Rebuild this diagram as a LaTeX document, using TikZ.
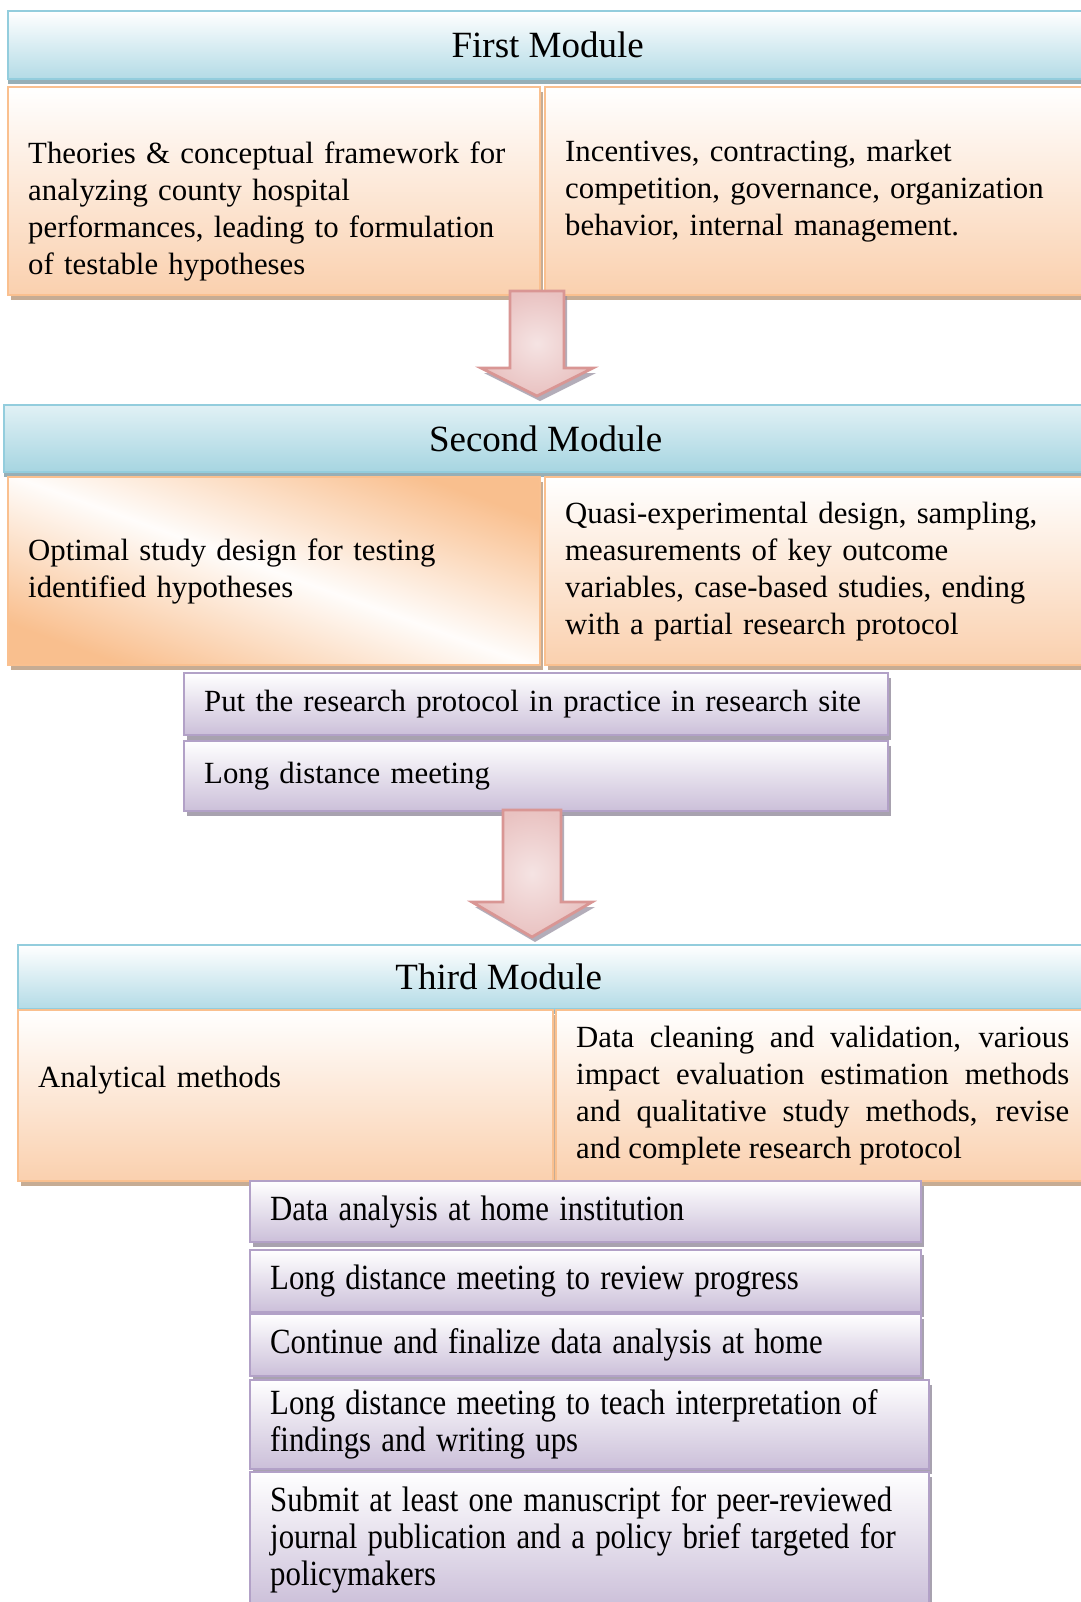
\documentclass[tikz,border=0pt]{standalone}
\usepackage{fontspec}
\setmainfont{Liberation Serif}
\usepackage{graphicx}
\usepackage{tikz}
\usetikzlibrary{shadows}

\definecolor{hdrline}{HTML}{93CDDD}
\definecolor{hdrfill}{HTML}{B3DBE6}
\definecolor{hdrfilltwo}{HTML}{A6D5E1}
\definecolor{hdrshade}{HTML}{7E9CA4}
\definecolor{orline}{HTML}{FAC08F}
\definecolor{orfill}{HTML}{FAD0AE}
\definecolor{ordeep}{HTML}{F9BF8E}
\definecolor{orshade}{HTML}{B8987A}
\definecolor{prline}{HTML}{B2A1C7}
\definecolor{prfill}{HTML}{CBBFD9}
\definecolor{prshade}{HTML}{938B9C}
\definecolor{arline}{HTML}{D99694}
\definecolor{arfill}{HTML}{E9C2C1}

\hyphenpenalty=10000
\exhyphenpenalty=10000

% taller glyphs in the lower stack
\newcommand\tallrow[1]{\scalebox{1}[1.15]{#1}}

\tikzset{
  boxbase/.style={anchor=north west, inner xsep=10pt, inner ysep=0pt, line width=1.2pt,
    font=\fontsize{15.4pt}{18.5pt}\selectfont},
  hdrbox/.style={boxbase, draw=hdrline, top color=white, bottom color=hdrfill,
    font=\fontsize{18.5pt}{22pt}\selectfont,
    drop shadow={shadow xshift=0pt, shadow yshift=-2.5pt, fill=hdrshade, opacity=.8}},
  orbox/.style={boxbase, draw=orline, top color=white, bottom color=orfill, align=left,
    drop shadow={shadow xshift=1.5pt, shadow yshift=-2.5pt, fill=orshade, opacity=.8}},
  prbox/.style={boxbase, draw=prline, top color=white, bottom color=prfill, align=left,
    drop shadow={shadow xshift=1.5pt, shadow yshift=-2.5pt, fill=prshade, opacity=.8}},
  blockarr/.style={draw=arline, line width=1.4pt, inner color=arfill!45, outer color=arfill,
    drop shadow={shadow xshift=1.5pt, shadow yshift=-2.5pt, fill=prshade, opacity=.7}}
}

\begin{document}
\begin{tikzpicture}[x=0.5pt,y=-0.5pt]
\useasboundingbox (0,0) rectangle (1081,1602);
\fill[white] (0,0) rectangle (1081,1602);

% first module
\node[hdrbox, minimum width=539.5pt, minimum height=34pt] (m1) at (7,10) {First Module};
\node[orbox, text width=246pt, minimum height=104pt] (m1l) at (7,86)
  {\mbox{}\\[13pt]Theories \& conceptual framework for\\analyzing county hospital\\performances, leading to formulation\\of testable hypotheses};
\node[orbox, text width=251pt, minimum height=104pt] (m1r) at (544,86)
  {Incentives, contracting, market\\competition, governance, organization\\behavior, internal management.};

\coordinate (a1) at (537,291);
\draw[blockarr] (a1) ++(-27,0) -- ++(54,0) -- ++(0,77) -- ++(29,0) -- ++(-56,28) -- ++(-56,-28) -- ++(29,0) -- cycle;

% second module
\node[hdrbox, minimum width=541.5pt, minimum height=33.5pt, top color=hdrfill!40, bottom color=hdrfilltwo] (m2) at (3,404) {Second Module};
\node[orbox, text width=246pt, minimum height=94pt, top color=ordeep, bottom color=ordeep, middle color=white!95!orfill, shading angle=-20] (m2l) at (7,476)
  {Optimal study design for testing\\identified hypotheses};
\node[orbox, text width=251pt, minimum height=94pt] (m2r) at (544,476)
  {Quasi-experimental design, sampling,\\measurements of key outcome\\variables, case-based studies, ending\\with a partial research protocol};
\node[prbox, text width=332pt, minimum height=31pt] (p1) at (183,672) {Put the research protocol in practice in research site};
\node[prbox, text width=332pt, minimum height=35pt] (p2) at (183,740) {Long distance meeting};

\coordinate (a2) at (532,810);
\draw[blockarr] (a2) ++(-29,0) -- ++(58,0) -- ++(0,92) -- ++(31,0) -- ++(-60,35) -- ++(-60,-35) -- ++(31,0) -- cycle;

% third module
\node[hdrbox, minimum width=534.5pt, minimum height=32pt] (m3) at (17,944) {Third Module\hspace*{54pt}};
\node[orbox, text width=247.5pt, minimum height=85.5pt] (m3l) at (17,1009) {Analytical methods\\\mbox{}};
\node[orbox, text width=246.5pt, minimum height=85.5pt, align=justify] (m3r) at (555,1009)
  {Data cleaning and validation, various impact evaluation estimation methods and qualitative study methods, revise and complete research protocol};
\node[prbox, text width=315.5pt, minimum height=30.5pt] (p3) at (249,1180) {\tallrow{Data analysis at home institution}};
\node[prbox, text width=315.5pt, minimum height=31pt] (p4) at (249,1249) {\tallrow{Long distance meeting to review progress}};
\node[prbox, text width=315.5pt, minimum height=31pt] (p5) at (249,1313) {\tallrow{Continue and finalize data analysis at home}};
\node[prbox, text width=319.5pt, minimum height=44.5pt] (p6) at (249,1379)
  {\tallrow{Long distance meeting to teach interpretation of}\\\tallrow{findings and writing ups}};
\node[prbox, text width=319.5pt, minimum height=67.5pt] (p7) at (249,1471)
  {\tallrow{Submit at least one manuscript for peer-reviewed}\\\tallrow{journal publication and a policy brief targeted for}\\\tallrow{policymakers}};
\end{tikzpicture}
\end{document}
